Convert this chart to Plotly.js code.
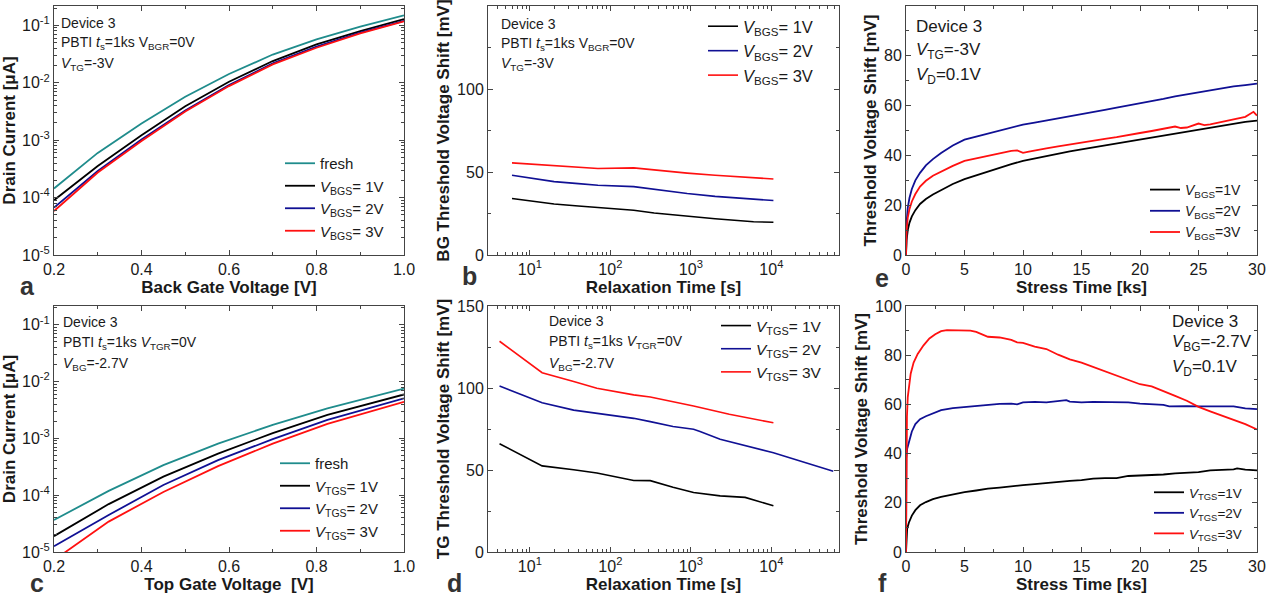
<!DOCTYPE html>
<html>
<head>
<meta charset="utf-8">
<script src="https://cdn.plot.ly/plotly-3.0.1.min.js"></script>
<style>html,body{margin:0;padding:0;background:#fff}#chart{width:1267px;height:599px}</style>
</head>
<body>
<div id="chart"></div>
<script>
// ---------- Panel a: drain current vs back-gate voltage (V_TG = -3V) ----------
const aVg = [0.2, 0.3, 0.4, 0.5, 0.6, 0.7, 0.8, 0.9, 1.0];
const aFresh = [1.44e-4, 6.0e-4, 1.95e-3, 5.7e-3, 1.42e-2, 3.1e-2, 5.7e-2, 0.095, 0.149];
const aBGS1 = [9.0e-5, 3.56e-4, 1.22e-3, 3.9e-3, 1.04e-2, 2.39e-2, 4.67e-2, 0.0796, 0.129];
const aBGS2 = [6.7e-5, 2.9e-4, 1.03e-3, 3.3e-3, 9.1e-3, 2.17e-2, 4.25e-2, 0.0745, 0.120];
const aBGS3 = [5.85e-5, 2.73e-4, 9.7e-4, 3.16e-3, 8.75e-3, 2.09e-2, 4.07e-2, 0.0725, 0.1175];

// ---------- Panel c: drain current vs top-gate voltage (V_BG = -2.7V) ----------
const cVg = [0.2, 0.325, 0.45, 0.575, 0.7, 0.825, 1.0];
const cFresh = [3.66e-5, 1.19e-4, 3.38e-4, 8.07e-4, 1.73e-3, 3.38e-3, 7.55e-3];
const cTGS1 = [1.9e-5, 6.97e-5, 2.12e-4, 5.4e-4, 1.24e-3, 2.59e-3, 5.93e-3];
const cTGS2 = [1.26e-5, 4.48e-5, 1.51e-4, 4.13e-4, 9.7e-4, 2.12e-3, 5.05e-3];
const cTGS3 = [7.2e-6, 3.43e-5, 1.14e-4, 3.25e-4, 8.07e-4, 1.8e-3, 4.41e-3];

// ---------- Panel b: BG threshold voltage shift vs relaxation time ----------
const bT = [6, 10, 20, 40, 70, 195, 350, 900, 2000, 6000, 10600];
const bBGS1 = [34, 32.5, 30.7, 29.5, 28.5, 27, 25.3, 23.3, 21.8, 20, 19.7];
const bBGS2 = [48, 46.5, 44.2, 43, 42, 41.2, 39.5, 37, 35.3, 33.5, 32.8];
const bBGS3 = [55.5, 54.8, 53.7, 52.8, 52.1, 52.5, 51.2, 49.3, 48.0, 46.5, 45.8];

// ---------- Panel d: TG threshold voltage shift vs relaxation time ----------
const dT1 = [4.2, 14.2, 35, 68, 195, 313, 600, 1080, 2310, 4720, 10600];
const dTGS1 = [66, 52.5, 50.2, 48.2, 43.6, 43.5, 39.5, 36.3, 34.2, 33.3, 28.2];
const dT2 = [4.2, 14.2, 35, 68, 195, 313, 600, 1080, 1300, 2310, 4720, 10600, 58700];
const dTGS2 = [101.2, 91, 86.5, 84.5, 81.5, 79.5, 76.5, 74.8, 73.5, 68.8, 65, 60.5, 49.2];
const dT3 = [4.2, 14.2, 35, 68, 195, 313, 1080, 3000, 10600];
const dTGS3 = [128.5, 109.3, 104, 99.8, 95.8, 94.5, 89, 84, 78.8];

// ---------- Panel e: threshold voltage shift vs stress time (V_TG = -3V) ----------
const eT = [0, 0.05, 0.15, 0.3, 0.5, 0.8, 1.2, 1.7, 2.3, 3, 4, 5, 6, 7, 8, 9, 10, 11, 12, 13, 14, 15, 16, 17, 18, 19, 20, 21, 22, 23, 24, 25, 26, 27, 28, 29, 30];
const eBGS1 = [0, 6, 10, 13, 15.5, 18, 20.5, 22.5, 24.3, 26, 28.5, 30.5, 32, 33.8, 35.2, 36.5, 37.8, 38.8, 39.8, 40.8, 41.6, 42.4, 43.2, 44, 44.8, 45.6, 46.4, 47.3, 48.2, 49, 49.8, 50.5, 51.3, 52, 52.8, 53.5, 54];
const eBGS2 = [0, 13, 19, 23, 26.5, 30, 33, 36, 38.5, 41, 44, 46.3, 47.5, 48.8, 50, 51.2, 52.4, 53.2, 54, 54.8, 55.6, 56.5, 57.3, 58.3, 59.2, 60, 60.8, 61.8, 62.7, 63.7, 64.5, 65.5, 66.3, 67, 67.7, 68.2, 68.8];
const eT3 = [0, 0.05, 0.15, 0.3, 0.5, 0.8, 1.2, 1.7, 2.3, 3, 4, 5, 6, 7, 8, 9, 9.5, 10, 10.5, 11, 12, 13, 14, 15, 16, 17, 18, 19, 20, 21, 22, 23, 23.5, 24, 25, 25.5, 26, 27, 28, 29, 29.7, 30];
const eBGS3 = [0, 10, 15, 18.5, 21.5, 24.5, 27.5, 29.8, 31.8, 33.5, 35.8, 37.8, 38.8, 40, 41, 41.8, 42, 41, 41.5, 42, 42.8, 43.6, 44.4, 45, 45.8, 46.6, 47.3, 48.3, 49, 49.8, 50.6, 51.6, 51, 51.2, 52.8, 52.2, 52.5, 53.5, 54.4, 55.5, 57.5, 56];

// ---------- Panel f: threshold voltage shift vs stress time (V_BG = -2.7V) ----------
const fT1 = [0, 0.03, 0.1, 0.25, 0.5, 0.8, 1.2, 1.7, 2.3, 3, 4, 5, 6, 7, 8, 9, 10, 11, 12, 13, 14, 15, 16, 17, 18, 19, 20, 21, 22, 23, 24, 25, 26, 27, 28, 28.3, 29, 30];
const fTGS1 = [0, 6, 9.5, 12, 14.8, 17, 19, 20.3, 21.5, 22.4, 23.4, 24.3, 25, 25.8, 26.2, 26.8, 27.2, 27.6, 28.1, 28.5, 28.9, 29.2, 29.8, 30, 30, 30.9, 31.1, 31.2, 31.5, 32, 32.2, 32.5, 33.2, 33.3, 33.6, 34, 33.5, 33.2];
const fT2 = [0, 0.03, 0.1, 0.25, 0.5, 0.8, 1.2, 1.7, 2.3, 3, 4, 5, 6, 7, 8, 9, 9.5, 10, 11, 12, 13, 13.7, 14, 15, 16, 17, 18, 19, 20, 21, 22, 22.5, 23, 24, 25, 26, 27, 28, 29, 30];
const fTGS2 = [0, 38, 42, 45, 49, 52, 54, 55.2, 56.5, 57.7, 58.5, 59, 59.2, 59.8, 60.2, 60.3, 60, 60.8, 61, 60.8, 61.2, 61.7, 61.1, 60.8, 61, 61, 61, 60.8, 60.3, 60, 59.8, 59.2, 59.3, 59.3, 59.2, 59.2, 59.2, 59.2, 58.4, 58.1];
const fT3 = [0, 0.03, 0.08, 0.15, 0.25, 0.4, 0.65, 1, 1.5, 2, 2.5, 3, 3.5, 4, 4.5, 5, 5.5, 6, 6.5, 7, 8, 9, 9.5, 10, 11, 12, 13, 14, 15, 16, 17, 18, 19, 20, 21, 22, 23, 24, 25, 26, 27, 28, 29, 30];
const fTGS3 = [0, 35, 55, 63, 68, 72.5, 77, 80.5, 84, 86.8, 88.5, 89.8, 90.2, 90.2, 90, 90, 90, 89.5, 88.5, 87.5, 87.2, 86.2, 85.2, 85, 83.5, 82.5, 80.2, 78.3, 77, 75.3, 73.5, 71.8, 70, 68.2, 67.3, 65.5, 63.5, 61.5, 59, 57.2, 55.5, 53.7, 52, 49.8];

// ---------- Tick labels ----------
const logCurrentTicks = [1e-5, 1e-4, 1e-3, 1e-2, 1e-1];
const logCurrentText = ['10<sup>-5</sup>', '10<sup>-4</sup>', '10<sup>-3</sup>', '10<sup>-2</sup>', '10<sup>-1</sup>'];
const logTimeTicks = [10, 100, 1000, 10000];
const logTimeText = ['10<sup>1</sup>', '10<sup>2</sup>', '10<sup>3</sup>', '10<sup>4</sup>'];

// ---------- Legend text ----------
const legA = ['fresh', '<i>V</i><sub>BGS</sub>= 1V', '<i>V</i><sub>BGS</sub>= 2V', '<i>V</i><sub>BGS</sub>= 3V'];
const legC = ['fresh', '<i>V</i><sub>TGS</sub>= 1V', '<i>V</i><sub>TGS</sub>= 2V', '<i>V</i><sub>TGS</sub>= 3V'];
const legE = ['<i>V</i><sub>BGS</sub>=1V', '<i>V</i><sub>BGS</sub>=2V', '<i>V</i><sub>BGS</sub>=3V'];
const legF = ['<i>V</i><sub>TGS</sub>=1V', '<i>V</i><sub>TGS</sub>=2V', '<i>V</i><sub>TGS</sub>=3V'];

const W = 1267, H = 599;
const FONT = 'Liberation Sans, Arial, Helvetica, sans-serif';
const TEAL = '#1f8c8c', BLACK = '#000000', BLUE = '#101094', RED = '#ff1010';
const px = x => x / W;
const py = y => 1 - y / H;

function ln(x, y, name, color, xa, ya, leg, w) {
  return {x: x, y: y, name: name, type: 'scatter', mode: 'lines',
    line: {color: color, width: w || 1.8}, xaxis: xa, yaxis: ya, legend: leg};
}

const data = [
  ln(aVg, aFresh, legA[0], TEAL, 'x', 'y', 'legend'),
  ln(aVg, aBGS1, legA[1], BLACK, 'x', 'y', 'legend'),
  ln(aVg, aBGS2, legA[2], BLUE, 'x', 'y', 'legend'),
  ln(aVg, aBGS3, legA[3], RED, 'x', 'y', 'legend'),
  ln(bT, bBGS1, legA[1], BLACK, 'x2', 'y2', 'legend2', 1.6),
  ln(bT, bBGS2, legA[2], BLUE, 'x2', 'y2', 'legend2', 1.6),
  ln(bT, bBGS3, legA[3], RED, 'x2', 'y2', 'legend2', 1.6),
  ln(eT, eBGS1, legE[0], BLACK, 'x3', 'y3', 'legend3'),
  ln(eT, eBGS2, legE[1], BLUE, 'x3', 'y3', 'legend3'),
  ln(eT3, eBGS3, legE[2], RED, 'x3', 'y3', 'legend3'),
  ln(cVg, cFresh, legC[0], TEAL, 'x4', 'y4', 'legend4'),
  ln(cVg, cTGS1, legC[1], BLACK, 'x4', 'y4', 'legend4'),
  ln(cVg, cTGS2, legC[2], BLUE, 'x4', 'y4', 'legend4'),
  ln(cVg, cTGS3, legC[3], RED, 'x4', 'y4', 'legend4'),
  ln(dT1, dTGS1, legC[1], BLACK, 'x5', 'y5', 'legend5', 1.6),
  ln(dT2, dTGS2, legC[2], BLUE, 'x5', 'y5', 'legend5', 1.6),
  ln(dT3, dTGS3, legC[3], RED, 'x5', 'y5', 'legend5', 1.6),
  ln(fT1, fTGS1, legF[0], BLACK, 'x6', 'y6', 'legend6'),
  ln(fT2, fTGS2, legF[1], BLUE, 'x6', 'y6', 'legend6'),
  ln(fT3, fTGS3, legF[2], RED, 'x6', 'y6', 'legend6')
];

const AX = '#444';
function axis(extra) {
  return Object.assign({
    showline: true, linecolor: AX, linewidth: 1, mirror: 'ticks',
    ticks: 'inside', ticklen: 5, tickcolor: AX, tickwidth: 1,
    showgrid: false, zeroline: false, automargin: false,
    tickfont: {family: FONT, size: 16, color: '#1a1a1a'}
  }, extra);
}
function ttl(text, standoff) {
  return {text: text, font: {family: FONT, size: 17, color: '#1a1a1a', weight: 'bold'}, standoff: standoff};
}
const minorLin = d => ({ticks: 'inside', ticklen: 3, tickcolor: AX, dtick: d, showgrid: false});
const minorLog = () => ({ticks: 'inside', ticklen: 3, tickcolor: AX, dtick: 'D1', showgrid: false});

const col = [[px(54), px(404)], [px(488), px(839)], [px(906), px(1257)]];
const row = [[py(255), py(6)], [py(552), py(306)]];

function legendAt(x, y, size) {
  return {x: px(x), y: py(y), xanchor: 'left', yanchor: 'top', bgcolor: 'rgba(0,0,0,0)',
    font: {family: FONT, size: size, color: '#1a1a1a'}, tracegroupgap: 0, itemwidth: 30};
}

const layout = {
  width: W, height: H,
  margin: {l: 0, r: 0, t: 0, b: 0},
  paper_bgcolor: '#fff', plot_bgcolor: '#fff',
  font: {family: FONT, color: '#1a1a1a'},
  // a
  xaxis: axis({domain: col[0], anchor: 'y', range: [0.2, 1.0], dtick: 0.2, tickformat: '.1f', minor: minorLin(0.1),
    title: ttl('Back Gate Voltage [V]', 3)}),
  yaxis: axis({domain: row[0], anchor: 'x', type: 'log', range: [-5, -0.663],
    tickmode: 'array', tickvals: logCurrentTicks, ticktext: logCurrentText, minor: minorLog(),
    title: ttl('Drain Current [\u03bcA]', 3)}),
  // b
  xaxis2: axis({domain: col[1], anchor: 'y2', type: 'log', range: [0.48, 4.84],
    tickmode: 'array', tickvals: logTimeTicks, ticktext: logTimeText, minor: minorLog(),
    title: ttl('Relaxation Time [s]', 3)}),
  yaxis2: axis({domain: row[0], anchor: 'x2', range: [0, 150], dtick: 50, minor: minorLin(25),
    title: ttl('BG Threshold Voltage Shift [mV]', 3)}),
  // e
  xaxis3: axis({domain: col[2], anchor: 'y3', range: [0, 30], dtick: 5, minor: minorLin(2.5),
    title: ttl('Stress Time [ks]', 3)}),
  yaxis3: axis({domain: row[0], anchor: 'x3', range: [0, 100], dtick: 20, minor: minorLin(10),
    title: ttl('Threshold Voltage Shift [mV]', 3)}),
  // c
  xaxis4: axis({domain: col[0], anchor: 'y4', range: [0.2, 1.0], dtick: 0.2, tickformat: '.1f', minor: minorLin(0.1),
    title: ttl('Top Gate Voltage  [V]', 3)}),
  yaxis4: axis({domain: row[1], anchor: 'x4', type: 'log', range: [-5, -0.67],
    tickmode: 'array', tickvals: logCurrentTicks, ticktext: logCurrentText, minor: minorLog(),
    title: ttl('Drain Current [\u03bcA]', 3)}),
  // d
  xaxis5: axis({domain: col[1], anchor: 'y5', type: 'log', range: [0.48, 4.84],
    tickmode: 'array', tickvals: logTimeTicks, ticktext: logTimeText, minor: minorLog(),
    title: ttl('Relaxation Time [s]', 3)}),
  yaxis5: axis({domain: row[1], anchor: 'x5', range: [0, 150], dtick: 50, minor: minorLin(25),
    title: ttl('TG Threshold Voltage Shift [mV]', 3)}),
  // f
  xaxis6: axis({domain: col[2], anchor: 'y6', range: [0, 30], dtick: 5, minor: minorLin(2.5),
    title: ttl('Stress Time [ks]', 3)}),
  yaxis6: axis({domain: row[1], anchor: 'x6', range: [0, 100], dtick: 20, minor: minorLin(10),
    title: ttl('Threshold Voltage Shift [mV]', 3)}),

  legend: legendAt(280, 147, 15),
  legend2: legendAt(703, 9, 16.5),
  legend3: legendAt(1145, 174, 14),
  legend4: legendAt(275, 447, 15),
  legend5: legendAt(716, 309, 15.5),
  legend6: legendAt(1149, 477, 13.5),

  annotations: []
};

function note(x, y, text, size) {
  layout.annotations.push({xref: 'paper', yref: 'paper', x: px(x), y: py(y), xanchor: 'left', yanchor: 'middle',
    text: text, showarrow: false, font: {family: FONT, size: size, color: '#1a1a1a'}});
}
function letter(x, y, t) {
  layout.annotations.push({xref: 'paper', yref: 'paper', x: px(x), y: py(y), xanchor: 'center', yanchor: 'middle',
    text: '<b>' + t + '</b>', showarrow: false, font: {family: FONT, size: 25, color: '#333'}});
}

// a
note(59, 23, 'Device 3', 14);
note(59, 43, 'PBTI <i>t</i><sub>s</sub>=1ks V<sub>BGR</sub>=0V', 14);
note(59, 64, '<i>V</i><sub>TG</sub>=-3V', 14);
// b
note(499, 24, 'Device 3', 14);
note(499, 44, 'PBTI <i>t</i><sub>s</sub>=1ks V<sub>BGR</sub>=0V', 14);
note(499, 64, '<i>V</i><sub>TG</sub>=-3V', 14);
// e
note(914, 26, 'Device 3', 17);
note(914, 51, '<i>V</i><sub>TG</sub>=-3V', 17);
note(914, 76, '<i>V</i><sub>D</sub>=0.1V', 17);
// c
note(61, 322, 'Device 3', 14);
note(61, 343, 'PBTI <i>t</i><sub>s</sub>=1ks <i>V</i><sub>TGR</sub>=0V', 14);
note(61, 364, '<i>V</i><sub>BG</sub>=-2.7V', 14);
// d
note(547, 321, 'Device 3', 14);
note(547, 342, 'PBTI <i>t</i><sub>s</sub>=1ks <i>V</i><sub>TGR</sub>=0V', 14);
note(547, 364, '<i>V</i><sub>BG</sub>=-2.7V', 14);
// f
note(1170, 321, 'Device 3', 17);
note(1170, 343, '<i>V</i><sub>BG</sub>=-2.7V', 17);
note(1170, 368, '<i>V</i><sub>D</sub>=0.1V', 17);

letter(27, 286, 'a');
letter(470, 276, 'b');
letter(882, 278, 'e');
letter(37, 583, 'c');
letter(454, 583, 'd');
letter(882, 583, 'f');

Plotly.newPlot('chart', data, layout, {staticPlot: true, displayModeBar: false});
</script>
</body>
</html>
